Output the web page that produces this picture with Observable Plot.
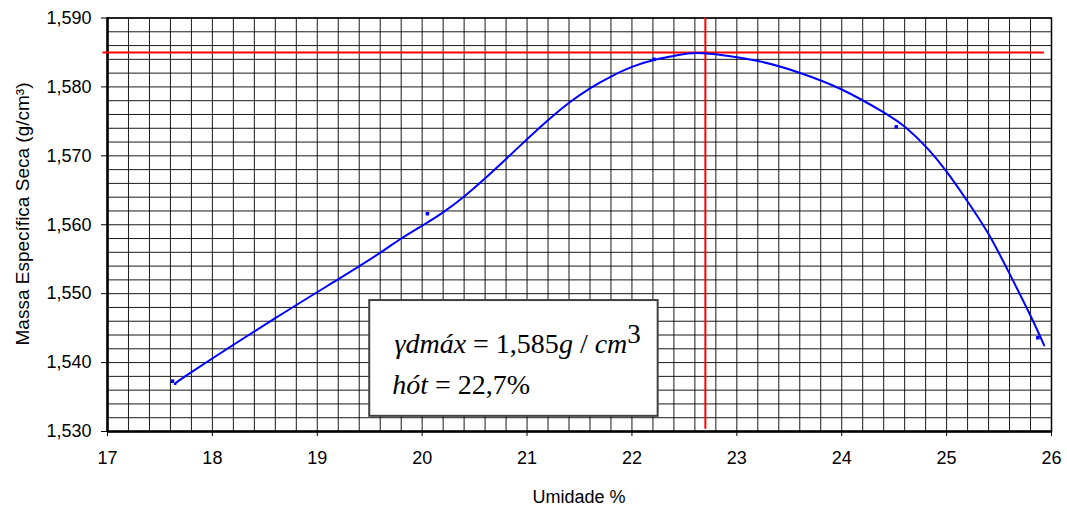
<!DOCTYPE html>
<html><head><meta charset="utf-8">
<script src="https://cdn.jsdelivr.net/npm/d3@7"></script>
<script src="https://cdn.jsdelivr.net/npm/@observablehq/plot@0.6"></script>
<style>body{margin:0;background:#fff} svg{display:block}</style>
</head><body><div id="chart"></div>
<script>
// Fitted curve
const curveX = [17.65, 17.79, 18.585, 19.19, 19.587, 19.79, 20.015, 20.21, 20.40, 20.59, 20.81, 21.00, 21.21, 21.41, 21.60, 21.80, 22.00, 22.21, 22.43, 22.68, 23.19, 23.59, 23.99, 24.40, 24.61, 24.81, 25.00, 25.19, 25.39, 25.59, 25.80, 25.93];
const curveY = [1.5369, 1.5385, 1.5463, 1.5520, 1.5558, 1.5579, 1.5600, 1.5619, 1.5641, 1.5666, 1.5697, 1.5724, 1.5753, 1.5778, 1.5798, 1.5815, 1.5829, 1.5839, 1.5846, 1.5849, 1.5838, 1.5821, 1.5797, 1.5763, 1.5741, 1.5712, 1.5677, 1.5636, 1.5589, 1.5532, 1.5468, 1.5425];
// Measured points
const pointX = [17.62, 20.05, 22.21, 24.52, 25.87];
const pointY = [1.5373, 1.5616, 1.5840, 1.5742, 1.5436];
// Reference lines
const gammaMax = 1.585;
const hOtima = 22.7;
const hLineX = [16.96, 25.92];
const vLineY = [1.5305, 1.590];
// Axes
const xTicks = [17, 18, 19, 20, 21, 22, 23, 24, 25, 26];
const yTicks = [1.530, 1.540, 1.550, 1.560, 1.570, 1.580, 1.590];
const xGridStep = 0.2;
const yGridStep = 0.002;
const yTitle = "Massa Específica Seca (g/cm³)";
const xTitle = "Umidade %";

const curve = curveX.map((x, i) => ({x, y: curveY[i]}));
const points = pointX.map((x, i) => ({x, y: pointY[i]}));
const hLine = hLineX.map(x => ({x, y: gammaMax}));
const vLine = vLineY.map(y => ({x: hOtima, y}));
const xGrid = d3.range(0, Math.round((26 - 17) / xGridStep) + 1).map(i => 17 + i * xGridStep);
const yGrid = d3.range(0, Math.round((1.59 - 1.53) / yGridStep) + 1).map(i => 1.53 + i * yGridStep);
const comma = d => d.toFixed(3).replace(".", ",");

const box = [{x1: 19.5, x2: 22.25, y1: 1.5322, y2: 1.549}];

const plot = Plot.plot({
  width: 1067, height: 507,
  marginLeft: 107, marginRight: 16, marginTop: 17.5, marginBottom: 76,
  style: {fontFamily: "'Liberation Sans', Arial, sans-serif", fontSize: "18px", color: "#000", background: "#fff"},
  x: {domain: [17, 26], ticks: xTicks, tickSize: 5, tickPadding: 15, label: null},
  y: {domain: [1.53, 1.59], ticks: yTicks, tickFormat: comma, tickSize: 6, tickPadding: 10, label: null},
  marks: [
    Plot.gridX(xGrid, {stroke: "#000", strokeOpacity: 0.9, strokeWidth: 1}),
    Plot.gridY(yGrid, {stroke: "#000", strokeOpacity: 0.9, strokeWidth: 1}),
    Plot.rect(box, {x1: "x1", x2: "x2", y1: "y1", y2: "y2", fill: "#fff", stroke: "#404040", strokeWidth: 2}),
    Plot.frame({stroke: "#000", strokeWidth: 1.5}),
    Plot.ruleX([17], {stroke: "#000", strokeWidth: 2.5}),
    Plot.ruleY([1.53], {stroke: "#000", strokeWidth: 2.5}),
    Plot.line(hLine, {x: "x", y: "y", stroke: "#ff0000", strokeWidth: 2}),
    Plot.line(vLine, {x: "x", y: "y", stroke: "#ff0000", strokeWidth: 2}),
    Plot.line(curve, {x: "x", y: "y", stroke: "#0000ff", strokeWidth: 2, curve: "natural"}),
    Plot.dot(points, {x: "x", y: "y", symbol: "square", r: 2, fill: "#0000ff", stroke: null})
  ]
});

const svg = d3.select(plot);
const sx = plot.scale("x"), sy = plot.scale("y");

// Annotation text inside the box
const t = svg.append("g").attr("font-family", "'Liberation Serif', 'Times New Roman', serif")
  .attr("font-size", 28).attr("fill", "#000").attr("text-anchor", "start");
const l1 = t.append("text").attr("x", sx.apply(19.74)).attr("y", sy.apply(1.5413));
l1.append("tspan").attr("font-style", "italic").text("γdmáx");
l1.append("tspan").text(" = 1,585");
l1.append("tspan").attr("font-style", "italic").text("g");
l1.append("tspan").text(" / ");
l1.append("tspan").attr("font-style", "italic").text("cm");
l1.append("tspan").attr("dy", -10).attr("font-size", 27).text("3");
const l2 = t.append("text").attr("x", sx.apply(19.72)).attr("y", sy.apply(1.5354));
l2.append("tspan").attr("font-style", "italic").text("hót");
l2.append("tspan").text(" = 22,7%");

// Axis titles
svg.append("text").attr("transform", "translate(22,214) rotate(-90)")
  .attr("text-anchor", "middle").attr("dominant-baseline", "central")
  .attr("font-size", 19).attr("fill", "#000").text(yTitle);
svg.append("text").attr("x", 579).attr("y", 503)
  .attr("text-anchor", "middle").attr("font-size", 18).attr("fill", "#000").text(xTitle);

document.getElementById("chart").appendChild(plot);
</script>
</body></html>
